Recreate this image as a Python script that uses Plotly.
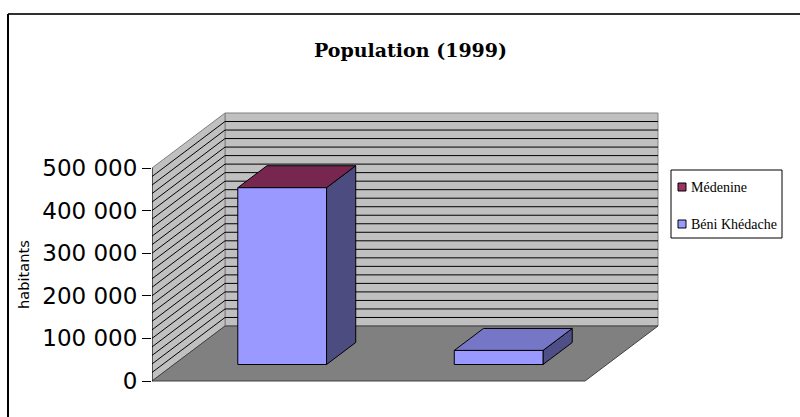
import plotly.graph_objects as go

# ---- data ----
categories = ["Médenine", "Béni Khédache"]
values = [415000, 33000]
tick_vals = [0, 100000, 200000, 300000, 400000, 500000]
tick_text = ["0", "100 000", "200 000", "300 000", "400 000", "500 000"]
grid_vals = list(range(20000, 500000, 20000))
title_text = "Population (1999)"
y_title = "habitants"
legend_names = ["Médenine", "Béni Khédache"]
legend_colors = ["#993366", "#9999FF"]

# ---- styling / geometry ----
W, H = 800, 417
L = 152                     # left margin (front axis x pixel)
Y0 = 381                    # pixel of value 0 on front plane
S = 213 / 500000            # px per value unit
PXC = 216.5                 # px per category
DX = 73 / PXC               # depth offset (category units)
DY = 55 / S                 # depth offset (value units)
YMAX = 500000
BAR_W = 0.41
F0, F1 = 0.3, 0.7           # bar depth fraction
front_col = "#9999FF"
top_cols = ["#772650", "#7676C6"]
side_cols = ["#4C4C80", "#4F4F88"]

xr = [-0.5, -0.5 + (W - L) / PXC]
yr = [(Y0 - H) / S, Y0 / S]


def P(c, v, f):
    return c + f * DX, v + f * DY


def pxp(px):
    return (px - L) / (W - L)


def pyp(py):
    return (H - py) / H


fig = go.Figure()


def poly(pts, fill, line="black", width=1):
    xs = [p[0] for p in pts] + [pts[0][0]]
    ys = [p[1] for p in pts] + [pts[0][1]]
    fig.add_trace(go.Scatter(x=xs, y=ys, mode="lines", fill="toself",
                             fillcolor=fill, line=dict(color=line, width=width),
                             hoverinfo="skip", showlegend=False))


xl, xrr = -0.5, 1.5
# back wall
poly([P(xl, 0, 1), P(xrr, 0, 1), P(xrr, YMAX, 1), P(xl, YMAX, 1)], "#C0C0C0", "#808080")
# side wall
poly([P(xl, 0, 0), P(xl, 0, 1), P(xl, YMAX, 1), P(xl, YMAX, 0)], "#C0C0C0", "#808080")

# gridlines
gx, gy = [], []
for v in grid_vals:
    a, b, c = P(xl, v, 0), P(xl, v, 1), P(xrr, v, 1)
    gx += [a[0], b[0], c[0], None]
    gy += [a[1], b[1], c[1], None]
fig.add_trace(go.Scatter(x=gx, y=gy, mode="lines", line=dict(color="black", width=1),
                         hoverinfo="skip", showlegend=False))

# floor
poly([P(xl, 0, 0), P(xrr, 0, 0), P(xrr, 0, 1), P(xl, 0, 1)], "#808080", "#404040")

# front axis line
fig.add_trace(go.Scatter(x=[xl, xl], y=[0, YMAX], mode="lines",
                         line=dict(color="black", width=1), hoverinfo="skip", showlegend=False))

# 3D bars
for i, v in enumerate(values):
    a, b = i - BAR_W / 2, i + BAR_W / 2
    poly([P(b, 0, F0), P(b, 0, F1), P(b, v, F1), P(b, v, F0)], side_cols[i])
    poly([P(a, v, F0), P(b, v, F0), P(b, v, F1), P(a, v, F1)], top_cols[i])
    poly([P(a, 0, F0), P(b, 0, F0), P(b, v, F0), P(a, v, F0)], front_col)

shapes = [
    dict(type="line", xref="paper", yref="paper", x0=pxp(8), x1=pxp(800), y0=pyp(14), y1=pyp(14),
         line=dict(color="#303030", width=2)),
    dict(type="line", xref="paper", yref="paper", x0=pxp(8), x1=pxp(8), y0=pyp(14), y1=pyp(417),
         line=dict(color="black", width=2)),
    dict(type="rect", xref="paper", yref="paper", x0=pxp(671), x1=pxp(782), y0=pyp(170), y1=pyp(238),
         line=dict(color="black", width=1), fillcolor="white"),
]
annotations = [
    dict(text=f"<b>{title_text}</b>", xref="paper", yref="paper", x=pxp(410), y=pyp(50),
         xanchor="center", yanchor="middle", showarrow=False,
         font=dict(family="DejaVu Serif", size=19, color="black")),
    dict(text=y_title, xref="paper", yref="paper", x=pxp(23), y=pyp(275), textangle=-90,
         xanchor="center", yanchor="middle", showarrow=False,
         font=dict(family="DejaVu Sans", size=14.6, color="black")),
]
leg_y = [187, 224]
for name, col, yy in zip(legend_names, legend_colors, leg_y):
    shapes.append(dict(type="rect", xref="paper", yref="paper", x0=pxp(678), x1=pxp(686),
                       y0=pyp(yy - 4), y1=pyp(yy + 4), line=dict(color="black", width=1), fillcolor=col))
    annotations.append(dict(text=name, xref="paper", yref="paper", x=pxp(689), y=pyp(yy),
                            xanchor="left", yanchor="middle", showarrow=False,
                            font=dict(family="Liberation Serif", size=14, color="black")))

fig.update_layout(
    width=W, height=H, margin=dict(l=L, r=0, t=0, b=0),
    paper_bgcolor="white", plot_bgcolor="white",
    xaxis=dict(range=xr, visible=False, fixedrange=True),
    yaxis=dict(range=yr, tickvals=tick_vals, ticktext=tick_text, ticks="outside", ticklen=9,
               tickcolor="black", tickwidth=1, showgrid=False, zeroline=False, showline=False,
               tickfont=dict(family="DejaVu Sans", size=23, color="black"), fixedrange=True),
    shapes=shapes, annotations=annotations, showlegend=False,
)
fig.write_html("out.html", config={"displayModeBar": False},
               post_script="document.body.style.margin='0';document.body.style.padding='0';")
